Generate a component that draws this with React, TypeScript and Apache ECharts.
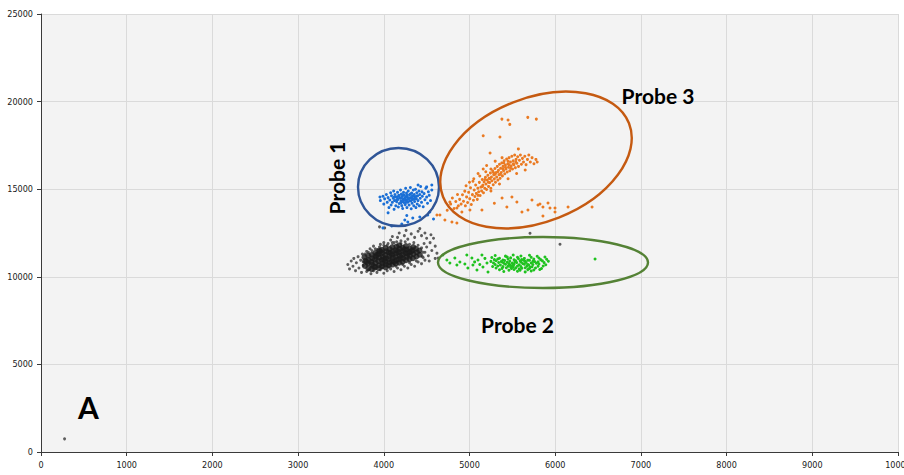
import React, { useEffect, useRef } from "react";
import * as echarts from "echarts";

// Axis ranges
const X_MIN = 0;
const X_MAX = 10000;
const X_STEP = 1000;
const Y_MIN = 0;
const Y_MAX = 25000;
const Y_STEP = 5000;

// Unlabelled events: dense core
const negCore: [number, number][] = [
  [3780, 10620], [3785, 10910], [3775, 11120],
  [3820, 10480], [3815, 10760], [3825, 10960], [3818, 11210],
  [3858, 10440], [3862, 10700], [3855, 10860], [3866, 11060], [3860, 11260],
  [3900, 10560], [3905, 10790], [3896, 10990], [3908, 11150], [3902, 11360],
  [3940, 10490], [3944, 10660], [3938, 10900], [3946, 11110], [3940, 11300], [3948, 11490],
  [3980, 10610], [3985, 10770], [3976, 10960], [3988, 11140], [3982, 11360], [3978, 11540],
  [4020, 10540], [4026, 10710], [4018, 10880], [4024, 11060], [4016, 11250], [4028, 11450], [4022, 11640],
  [4060, 10660], [4066, 10820], [4056, 11010], [4064, 11180], [4058, 11390], [4068, 11580],
  [4100, 10700], [4096, 10900], [4106, 11080], [4098, 11260], [4104, 11450], [4100, 11700],
  [4140, 10760], [4146, 10950], [4136, 11150], [4144, 11330], [4138, 11520], [4148, 11720],
  [4180, 10810], [4176, 11000], [4186, 11200], [4178, 11400], [4184, 11600], [4180, 11800],
  [4220, 10860], [4226, 11050], [4216, 11260], [4224, 11450], [4218, 11660],
  [4260, 10950], [4266, 11150], [4256, 11350], [4264, 11560], [4258, 11750],
  [4300, 11010], [4306, 11200], [4296, 11410], [4304, 11600],
  [4340, 11060], [4346, 11300], [4336, 11510], [4344, 11700],
  [4380, 11160], [4386, 11400], [4376, 11600],
  [4420, 11260], [4416, 11500],
  [3800, 10850], [3880, 10600], [3920, 11250], [4000, 11000], [4080, 11350], [4120, 10850],
  [4160, 11450], [4200, 11100], [4240, 11550], [4280, 11300], [4320, 11450], [3960, 11450],
];

// Unlabelled events: sparse halo and strays
const negHalo: [number, number][] = [
  [3580, 10700], [3600, 10450], [3620, 10900], [3640, 10600], [3650, 11050], [3670, 10350],
  [3680, 10800], [3700, 11150], [3710, 10500], [3730, 10950], [3740, 10250], [3750, 11300], [3760, 10650],
  [3800, 10300], [3850, 10180], [3880, 10350], [3920, 10250], [3960, 10400], [4000, 10200],
  [4040, 10350], [4080, 10450], [4120, 10300], [4160, 10500], [4200, 10400], [4240, 10600],
  [4280, 10500], [4320, 10700], [4360, 10600], [4400, 10850], [4440, 10750], [4480, 10950],
  [3800, 11450], [3840, 11600], [3880, 11750], [3920, 11550], [3960, 11850], [4000, 11950],
  [4040, 11800], [4080, 12100], [4120, 11950], [4160, 12250], [4200, 12050], [4240, 12350],
  [4280, 12150], [4320, 12450], [4360, 12250], [4400, 12600], [4440, 12350], [4480, 12500],
  [4260, 12650], [4180, 12500], [4100, 12300], [3950, 12850], [4010, 12790], [4420, 12750],
  [4460, 11100], [4480, 11400], [4500, 11700], [4520, 11200], [4540, 11950], [4560, 11500],
  [4580, 12200], [4600, 11750], [4620, 11350], [4635, 11070], [4550, 12400], [4500, 12200],
  [4600, 11050], [4470, 11900], [4530, 10900],
  [3760, 10850], [3780, 11300], [3820, 11400], [3860, 11500], [3900, 11600], [3950, 11700],
  [4000, 11800], [4050, 11900], [4100, 11950], [4150, 12000], [4200, 11900], [4250, 12000],
  [4300, 11850], [4350, 11950], [4400, 11800], [4440, 11650], [4460, 11400], [4450, 11150],
  [3820, 10400], [3900, 10450], [3980, 10500], [4060, 10550], [4140, 10600], [4220, 10700],
  [4300, 10800], [4380, 10900],
  [5706, 12485], [6056, 11855], [275, 750],
];

// Probe 1 (blue)
const probe1: [number, number][] = [
  [3960, 14350], [3990, 14600], [4000, 14150], [4010, 14450], [4030, 14700], [4040, 14250],
  [4050, 14520], [4060, 13950], [4070, 14380], [4080, 14800], [4085, 14100], [4090, 14620],
  [4100, 14250], [4110, 14480], [4115, 14900], [4120, 13850], [4125, 14350], [4130, 14700],
  [4140, 14050], [4145, 14560], [4150, 14280], [4160, 14820], [4165, 14420], [4170, 13980],
  [4175, 14650], [4180, 14180], [4190, 14500], [4195, 14950], [4200, 14330], [4205, 14720],
  [4210, 14060], [4215, 14590], [4220, 13900], [4225, 14420], [4230, 14820], [4235, 14240],
  [4240, 14650], [4245, 14500], [4250, 14120], [4255, 15050], [4260, 14380], [4265, 14780],
  [4270, 13950], [4275, 14560], [4280, 14260], [4285, 14900], [4290, 14450], [4295, 14100],
  [4300, 14680], [4305, 14330], [4310, 15100], [4315, 14520], [4320, 13880], [4325, 14780],
  [4330, 14200], [4335, 14620], [4340, 14420], [4345, 14950], [4350, 14050], [4355, 14700],
  [4360, 14300], [4365, 14550], [4370, 15000], [4375, 13950], [4380, 14450], [4385, 14800],
  [4390, 14150], [4395, 14620], [4400, 14350], [4410, 14900], [4415, 14050], [4420, 14700],
  [4425, 14480], [4430, 15150], [4440, 14250], [4445, 14850], [4450, 14600], [4460, 14000],
  [4470, 14750], [4480, 14400], [4490, 15050], [4500, 14550], [4510, 14200], [4520, 14850],
  [4530, 14650], [4545, 14350], [4560, 14950],
  [4150, 14400], [4180, 14620], [4200, 14480], [4220, 14300], [4240, 14380], [4260, 14550],
  [4280, 14420], [4300, 14500], [4320, 14350], [4340, 14600], [4360, 14450], [4200, 14220],
  [4260, 14250], [4160, 14550], [4230, 14680], [4310, 14720], [4380, 14600], [4120, 14550],
  [4270, 14650], [4330, 14480], [4400, 15240], [4500, 15130], [4560, 15240], [3955, 14555],
  [4050, 13650], [4245, 13240], [4280, 13130], [3990, 12790], [4093, 12900], [4210, 13010],
  [4268, 13500], [4338, 13360], [4420, 13410], [4513, 13530], [4537, 13700], [4580, 13300],
];

// Probe 2 (green)
const probe2: [number, number][] = [
  [4689, 11245], [4736, 10960], [4771, 10788], [4829, 11074], [4853, 10674], [4888, 10845],
  [4946, 10731], [4969, 11245], [4981, 10503], [5028, 11074], [5040, 10674], [5087, 10389],
  [5099, 10960], [5145, 11245], [5157, 10560], [5204, 10788], [5216, 10275], [5120, 10700],
  [5060, 10850], [5180, 11050],
  [5300, 11220], [5420, 11180], [5510, 11240], [5600, 11190], [5700, 11230], [5790, 11170],
  [5260, 11100], [5350, 11060], [5440, 11130], [5480, 11080], [5560, 11120], [5640, 11050],
  [5720, 11110], [5810, 11070], [5880, 11130],
  [5290, 10980], [5330, 11020], [5390, 10960], [5450, 11010], [5520, 10970], [5570, 11040],
  [5610, 10990], [5680, 10950], [5750, 11020], [5830, 10980], [5900, 11000],
  [5250, 10880], [5310, 10920], [5370, 10870], [5410, 10930], [5470, 10890], [5530, 10860],
  [5590, 10910], [5650, 10880], [5700, 10940], [5760, 10870], [5850, 10910], [5920, 10890],
  [5280, 10790], [5340, 10820], [5400, 10770], [5440, 10830], [5500, 10780], [5550, 10810],
  [5620, 10760], [5660, 10820], [5720, 10790], [5780, 10770], [5870, 10810],
  [5300, 10700], [5360, 10670], [5420, 10720], [5470, 10680], [5520, 10710], [5580, 10690],
  [5640, 10720], [5690, 10670], [5740, 10700], [5810, 10730], [5890, 10690],
  [5270, 10590], [5330, 10620], [5390, 10580], [5450, 10610], [5510, 10570], [5560, 10620],
  [5600, 10590], [5670, 10610], [5730, 10570], [5800, 10600], [5860, 10620],
  [5310, 10500], [5380, 10480], [5430, 10520], [5490, 10470], [5540, 10510], [5610, 10490],
  [5650, 10520], [5700, 10480], [5770, 10500], [5840, 10470],
  [5350, 10400], [5460, 10380], [5520, 10420], [5590, 10370], [5680, 10410], [5750, 10390],
  [5820, 10420], [5400, 10300], [5560, 10320], [5650, 10280], [5720, 10330],
  [5460, 10750], [5540, 10920], [5600, 10840], [5680, 10700], [5740, 10880], [5500, 10640],
  [5580, 10450], [5630, 10950], [5380, 10850], [5800, 10850], [5710, 10560], [5480, 10560],
  [6465, 11016],
];

// Probe 3 (orange)
const probe3: [number, number][] = [
  [4885, 14420], [4902, 14150], [4918, 14680], [4930, 14310], [4945, 14890], [4952, 14050],
  [4966, 14560], [4978, 14240], [4990, 14820], [5003, 14460], [5012, 15080], [5021, 14130],
  [5034, 14690], [5046, 14370],
  [5055, 14950], [5063, 14580], [5072, 15240], [5080, 14760], [5091, 14420], [5098, 15060],
  [5107, 14850], [5115, 15390], [5124, 14640], [5133, 15120], [5141, 14900], [5149, 15550],
  [5156, 15230], [5163, 14800], [5170, 15420], [5178, 15050], [5186, 15680], [5192, 15300],
  [5199, 14980], [5207, 15520], [5214, 15800], [5222, 15160], [5229, 15620], [5236, 15380],
  [5244, 15930], [5249, 15050],
  [5256, 15700], [5262, 15480], [5270, 16050], [5277, 15250], [5283, 15820], [5290, 15590],
  [5297, 16180], [5303, 15400], [5310, 15950], [5317, 15700], [5324, 16300], [5331, 15520],
  [5338, 16080], [5344, 15830], [5350, 16420],
  [5357, 15620], [5363, 16190], [5370, 15950], [5377, 16500], [5384, 15760], [5391, 16300],
  [5398, 16060], [5405, 16620], [5412, 15880], [5419, 16380], [5426, 16150], [5433, 16720],
  [5440, 15980], [5447, 16450],
  [5455, 16250], [5462, 16800], [5470, 16050], [5478, 16550], [5486, 16330], [5494, 16880],
  [5502, 16150], [5510, 16620], [5518, 16400], [5527, 16950], [5535, 16230], [5543, 16700],
  [5553, 16480], [5562, 16850], [5572, 16300], [5583, 16650], [5594, 16950], [5606, 16420],
  [5618, 16760], [5630, 16550], [5645, 16880], [5660, 16400], [5676, 16700], [5692, 16950],
  [5710, 16550], [5730, 16800], [5752, 16450], [5775, 16700], [5790, 16550],
  [5180, 15550], [5240, 15600], [5300, 15850], [5330, 16000], [5360, 15850], [5390, 16150],
  [5420, 16250], [5450, 16600], [5480, 16200], [5510, 16450], [5540, 16550], [5460, 16400],
  [5280, 15950], [5220, 15400], [5150, 15150], [5100, 14650], [5250, 16150], [5400, 16500],
  [5050, 15600], [5100, 15900], [5160, 16150], [5200, 16350], [5300, 16600], [5250, 14900],
  [5350, 15300], [5450, 15600], [5550, 15900], [5650, 16100], [5000, 15400], [5380, 16800],
  [4780, 14150], [4800, 14500], [4820, 13900], [4840, 14300], [4860, 14700], [4870, 14050],
  [4740, 13800], [4960, 15200], [5040, 15450], [5120, 15750], [5190, 16000],
  [5378, 19000], [5450, 18950], [5470, 18700], [5680, 19100], [5780, 19000], [5160, 18050],
  [5355, 17980], [5240, 17070], [5570, 17300],
  [5436, 13985], [5495, 14555], [5553, 14270], [5612, 13700], [5682, 13813], [5729, 14384],
  [5799, 14099], [5822, 14156], [5857, 13985], [5916, 14213], [5939, 13928], [5998, 13928],
  [5998, 13700], [5857, 13471], [6150, 13985], [6430, 13985],
  [4771, 14270], [4853, 13928], [4911, 13700], [5005, 13813], [5145, 13813], [5290, 14200],
  [5380, 14500], [4655, 13528], [4713, 13243], [4795, 13128], [4853, 13071], [4620, 13530],
];

// Annotation rings around each probe cluster (canvas pixels)
const rings = [
  { cx: 398.5, cy: 187, rx: 40.5, ry: 39, rot: 0, color: "#2F5597" },
  { cx: 536, cy: 160, rx: 100, ry: 62, rot: 21.5, color: "#C55A11" },
  { cx: 543, cy: 262.5, rx: 105, ry: 25.5, rot: 0, color: "#548235" },
];

const labels = [
  { text: "Probe 1", x: 336, y: 178, rot: 90, size: 21 },
  { text: "Probe 3", x: 658, y: 95, rot: 0, size: 21 },
  { text: "Probe 2", x: 517.5, y: 324, rot: 0, size: 21 },
  { text: "A", x: 88.5, y: 407, rot: 0, size: 30 },
];

const tickFont = "'Liberation Sans Narrow', 'DejaVu Sans Condensed', 'Roboto', sans-serif";

export default function App() {
  const ref = useRef<HTMLDivElement>(null);

  useEffect(() => {
    if (!ref.current) return;
    const chart = echarts.init(ref.current, undefined, { renderer: "svg" });

    const scatter = (data: [number, number][], color: string, size: number, opacity = 1, z = 2) => ({
      type: "scatter",
      data,
      symbol: "circle",
      symbolSize: size,
      z,
      itemStyle: { color, opacity },
      emphasis: { disabled: true },
      silent: true,
    });

    const axisCommon = {
      type: "value",
      axisLine: { show: true, onZero: false, lineStyle: { color: "#3a3a3a", width: 1 } },
      axisTick: { show: true, length: 4, lineStyle: { color: "#3a3a3a" } },
      axisLabel: {
        color: "#1a1a1a",
        fontSize: 9,
        fontFamily: tickFont,
        margin: 8,
        formatter: (v: number) => String(v),
      },
      splitLine: { show: true, lineStyle: { color: "#dadada", width: 1 } },
    };

    chart.setOption({
      animation: false,
      backgroundColor: "#ffffff",
      grid: {
        left: 41,
        right: 6,
        top: 14,
        bottom: 23,
        show: true,
        backgroundColor: "#f3f3f3",
        borderWidth: 0,
        containLabel: false,
        outerBoundsMode: "none",
      },
      xAxis: { ...axisCommon, min: X_MIN, max: X_MAX, interval: X_STEP },
      yAxis: { ...axisCommon, min: Y_MIN, max: Y_MAX, interval: Y_STEP },
      series: [
        scatter(negHalo, "#4d4d4d", 3, 0.9, 2),
        scatter(negCore, "#1c1c1c", 6, 0.8, 3),
        scatter(probe2, "#1fc21f", 3, 1, 4),
        scatter(probe3, "#ea7a22", 3, 1, 4),
        scatter(probe1, "#1a6fd6", 3, 1, 4),
      ],
      graphic: [
        ...rings.map((r) => ({
          type: "ellipse",
          x: r.cx,
          y: r.cy,
          rotation: (r.rot * Math.PI) / 180,
          shape: { cx: 0, cy: 0, rx: r.rx, ry: r.ry },
          style: { fill: "none", stroke: r.color, lineWidth: 2.4 },
          z: 100,
          silent: true,
        })),
        ...labels.map((l) => ({
          type: "text",
          x: l.x,
          y: l.y,
          rotation: (l.rot * Math.PI) / 180,
          style: {
            text: l.text,
            font: `bold ${l.size}px Lato, 'Open Sans', sans-serif`,
            fill: "#000",
            textAlign: "center",
            textVerticalAlign: "middle",
            align: "center",
            verticalAlign: "middle",
          },
          z: 101,
          silent: true,
        })),
      ],
    });

    return () => chart.dispose();
  }, []);

  return (
    <div
      ref={ref}
      style={{ position: "absolute", left: 0, top: 0, width: 904, height: 475, background: "#fff" }}
    />
  );
}
